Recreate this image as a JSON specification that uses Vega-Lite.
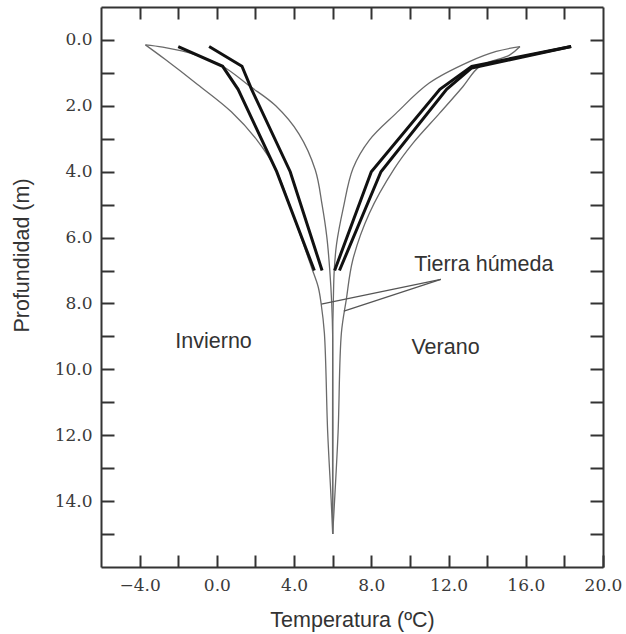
{
  "$schema": "https://vega.github.io/schema/vega-lite/v6.json",
  "width": 502,
  "height": 560,
  "autosize": {"type": "none"},
  "padding": {"left": 101, "top": 7, "right": 23, "bottom": 67},
  "background": "white",
  "config": {
    "view": {"stroke": null},
    "axis": {
      "domainColor": "#333333",
      "domainWidth": 2,
      "tickColor": "#333333",
      "tickWidth": 2,
      "grid": false,
      "labelFont": "DejaVu Serif",
      "labelFontSize": 17,
      "labelColor": "#3a3a3a",
      "titleFont": "Liberation Sans",
      "titleFontSize": 21.5,
      "titleFontWeight": "normal",
      "titleColor": "#333333"
    }
  },
  "datasets": {
    "thin": [
      {"serie": "W1", "o": 1, "x": -3.7, "y": 0.15},
      {"serie": "W1", "o": 2, "x": -2.7, "y": 0.58},
      {"serie": "W1", "o": 3, "x": -1.0, "y": 1.35},
      {"serie": "W1", "o": 4, "x": 0.75, "y": 2.18},
      {"serie": "W1", "o": 5, "x": 2.08, "y": 3.04},
      {"serie": "W1", "o": 6, "x": 3.07, "y": 3.95},
      {"serie": "W1", "o": 7, "x": 4.0, "y": 5.4},
      {"serie": "W1", "o": 8, "x": 4.9, "y": 6.9},
      {"serie": "W1", "o": 9, "x": 5.25, "y": 7.5},
      {"serie": "W1", "o": 10, "x": 5.4, "y": 8.0},
      {"serie": "W1", "o": 11, "x": 5.57, "y": 8.9},
      {"serie": "W1", "o": 12, "x": 5.74, "y": 11.9},
      {"serie": "W1", "o": 13, "x": 5.92, "y": 13.96},
      {"serie": "W1", "o": 14, "x": 6.0, "y": 15.0},
      {"serie": "W2", "o": 1, "x": -3.7, "y": 0.15},
      {"serie": "W2", "o": 2, "x": -2.8, "y": 0.22},
      {"serie": "W2", "o": 3, "x": -1.1, "y": 0.45},
      {"serie": "W2", "o": 4, "x": 0.3, "y": 0.8},
      {"serie": "W2", "o": 5, "x": 1.7, "y": 1.4},
      {"serie": "W2", "o": 6, "x": 3.05, "y": 2.0},
      {"serie": "W2", "o": 7, "x": 4.25, "y": 2.85},
      {"serie": "W2", "o": 8, "x": 5.1, "y": 3.95},
      {"serie": "W2", "o": 9, "x": 5.45, "y": 5.0},
      {"serie": "W2", "o": 10, "x": 5.7, "y": 6.0},
      {"serie": "W2", "o": 11, "x": 5.85, "y": 7.0},
      {"serie": "W2", "o": 12, "x": 5.95, "y": 8.0},
      {"serie": "W2", "o": 13, "x": 6.0, "y": 9.0},
      {"serie": "W2", "o": 14, "x": 6.0, "y": 15.0},
      {"serie": "S1", "o": 1, "x": 15.7, "y": 0.2},
      {"serie": "S1", "o": 2, "x": 15.16, "y": 0.46},
      {"serie": "S1", "o": 3, "x": 13.6, "y": 0.81},
      {"serie": "S1", "o": 4, "x": 12.74, "y": 1.42},
      {"serie": "S1", "o": 5, "x": 11.53, "y": 2.23},
      {"serie": "S1", "o": 6, "x": 10.15, "y": 3.14},
      {"serie": "S1", "o": 7, "x": 9.2, "y": 3.9},
      {"serie": "S1", "o": 8, "x": 7.9, "y": 5.26},
      {"serie": "S1", "o": 9, "x": 7.04, "y": 6.68},
      {"serie": "S1", "o": 10, "x": 6.7, "y": 7.9},
      {"serie": "S1", "o": 11, "x": 6.45, "y": 8.9},
      {"serie": "S1", "o": 12, "x": 6.28, "y": 11.9},
      {"serie": "S1", "o": 13, "x": 6.1, "y": 13.96},
      {"serie": "S1", "o": 14, "x": 6.0, "y": 15.0},
      {"serie": "S2", "o": 1, "x": 15.7, "y": 0.2},
      {"serie": "S2", "o": 2, "x": 14.47, "y": 0.35},
      {"serie": "S2", "o": 3, "x": 13.08, "y": 0.66},
      {"serie": "S2", "o": 4, "x": 11.0, "y": 1.31},
      {"serie": "S2", "o": 5, "x": 9.28, "y": 2.23},
      {"serie": "S2", "o": 6, "x": 7.9, "y": 3.04},
      {"serie": "S2", "o": 7, "x": 7.05, "y": 3.9},
      {"serie": "S2", "o": 8, "x": 6.55, "y": 5.1},
      {"serie": "S2", "o": 9, "x": 6.2, "y": 6.2},
      {"serie": "S2", "o": 10, "x": 6.08, "y": 7.0},
      {"serie": "S2", "o": 11, "x": 6.03, "y": 8.0},
      {"serie": "S2", "o": 12, "x": 6.0, "y": 9.0},
      {"serie": "S2", "o": 13, "x": 6.0, "y": 15.0}
    ],
    "thick": [
      {"serie": "TW1", "o": 1, "x": -2.0, "y": 0.2},
      {"serie": "TW1", "o": 2, "x": 0.3, "y": 0.8},
      {"serie": "TW1", "o": 3, "x": 1.1, "y": 1.5},
      {"serie": "TW1", "o": 4, "x": 3.1, "y": 4.0},
      {"serie": "TW1", "o": 5, "x": 5.05, "y": 7.0},
      {"serie": "TW2", "o": 1, "x": -0.4, "y": 0.2},
      {"serie": "TW2", "o": 2, "x": 1.3, "y": 0.8},
      {"serie": "TW2", "o": 3, "x": 1.8, "y": 1.5},
      {"serie": "TW2", "o": 4, "x": 3.8, "y": 4.0},
      {"serie": "TW2", "o": 5, "x": 5.45, "y": 7.0},
      {"serie": "TS1", "o": 1, "x": 18.35, "y": 0.2},
      {"serie": "TS1", "o": 2, "x": 13.2, "y": 0.8},
      {"serie": "TS1", "o": 3, "x": 11.55, "y": 1.5},
      {"serie": "TS1", "o": 4, "x": 8.0, "y": 4.0},
      {"serie": "TS1", "o": 5, "x": 6.1, "y": 7.0},
      {"serie": "TS2", "o": 1, "x": 18.35, "y": 0.2},
      {"serie": "TS2", "o": 2, "x": 13.2, "y": 0.85},
      {"serie": "TS2", "o": 3, "x": 11.9, "y": 1.5},
      {"serie": "TS2", "o": 4, "x": 8.5, "y": 4.0},
      {"serie": "TS2", "o": 5, "x": 6.35, "y": 7.0}
    ],
    "leader": [
      {"x": 11.6, "y": 7.27, "x2": 5.41, "y2": 8.02},
      {"x": 11.6, "y": 7.27, "x2": 6.58, "y2": 8.23}
    ],
    "labels": [
      {"text": "Tierra húmeda", "x": 10.23, "y": 6.84},
      {"text": "Invierno", "x": -2.15, "y": 9.18},
      {"text": "Verano", "x": 10.08, "y": 9.36}
    ]
  },
  "layer": [
    {
      "data": {"name": "thin"},
      "mark": {"type": "line", "interpolate": "catmull-rom", "color": "#6a6a6a", "strokeWidth": 1.3},
      "encoding": {
        "x": {
          "field": "x", "type": "quantitative",
          "scale": {"domain": [-6, 20], "nice": false, "zero": false},
          "axis": {
            "orient": "bottom",
            "title": "Temperatura (ºC)",
            "values": [-4, -2, 0, 2, 4, 6, 8, 10, 12, 14, 16, 18, 20],
            "labelExpr": "datum.value % 4 == 0 ? format(datum.value, '.1f') : ''",
            "tickSize": -12,
            "labelPadding": 22,
            "labelBaseline": "top",
            "labelFlush": false,
            "labelOverlap": false,
            "titleY": 53,
            "titleBaseline": "middle"
          }
        },
        "y": {
          "field": "y", "type": "quantitative",
          "scale": {"domain": [-1, 16], "nice": false, "zero": false, "reverse": true},
          "axis": {
            "orient": "left",
            "title": "Profundidad (m)",
            "values": [0, 1, 2, 3, 4, 5, 6, 7, 8, 9, 10, 11, 12, 13, 14, 15],
            "labelExpr": "datum.value % 2 == 0 ? format(datum.value, '.1f') : ''",
            "tickSize": -13,
            "labelPadding": 22,
            "labelFlush": false,
            "labelOverlap": false,
            "titleX": -79,
            "titleY": 248,
            "titleBaseline": "middle"
          }
        },
        "detail": {"field": "serie"},
        "order": {"field": "o", "type": "quantitative"}
      }
    },
    {
      "data": {"name": "thick"},
      "mark": {"type": "line", "color": "#111111", "strokeWidth": 3, "strokeJoin": "miter"},
      "encoding": {
        "x": {
          "field": "x", "type": "quantitative",
          "scale": {"domain": [-6, 20], "nice": false, "zero": false},
          "axis": {
            "orient": "top",
            "title": null,
            "values": [-4, -2, 0, 2, 4, 6, 8, 10, 12, 14, 16, 18],
            "labels": false,
            "tickSize": -12
          }
        },
        "y": {
          "field": "y", "type": "quantitative",
          "scale": {"domain": [-1, 16], "nice": false, "zero": false, "reverse": true},
          "axis": {
            "orient": "right",
            "title": null,
            "values": [0, 1, 2, 3, 4, 5, 6, 7, 8, 9, 10, 11, 12, 13, 14, 15],
            "labels": false,
            "tickSize": -13
          }
        },
        "detail": {"field": "serie"},
        "order": {"field": "o", "type": "quantitative"}
      }
    },
    {
      "data": {"name": "leader"},
      "mark": {"type": "rule", "color": "#555555", "strokeWidth": 1.3},
      "encoding": {
        "x": {"field": "x", "type": "quantitative", "axis": null, "scale": {"domain": [-6, 20], "nice": false, "zero": false}},
        "y": {"field": "y", "type": "quantitative", "axis": null, "scale": {"domain": [-1, 16], "nice": false, "zero": false, "reverse": true}},
        "x2": {"field": "x2"},
        "y2": {"field": "y2"}
      }
    },
    {
      "data": {"name": "labels"},
      "mark": {"type": "text", "align": "left", "baseline": "middle", "font": "Liberation Sans", "fontSize": 21.5, "color": "#333333"},
      "encoding": {
        "x": {"field": "x", "type": "quantitative", "axis": null, "scale": {"domain": [-6, 20], "nice": false, "zero": false}},
        "y": {"field": "y", "type": "quantitative", "axis": null, "scale": {"domain": [-1, 16], "nice": false, "zero": false, "reverse": true}},
        "text": {"field": "text"}
      }
    }
  ],
  "resolve": {"axis": {"x": "independent", "y": "independent"}}
}
